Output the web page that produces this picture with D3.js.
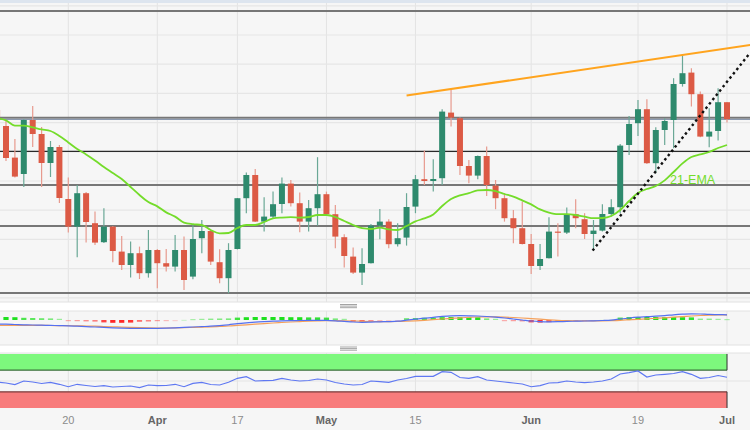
<!DOCTYPE html>
<html><head><meta charset="utf-8">
<script src="https://cdn.jsdelivr.net/npm/d3@7"></script>
<style>
body{margin:0;background:#fff;}
svg{display:block;font-family:"Liberation Sans",Arial,sans-serif;}
</style></head>
<body><svg id="chart" width="750" height="430"></svg>
<script>
// ---------- DATA ----------
const firstIndex = -8; // trading-day index of first candle (0 = 20 Mar)
const opens = [144.50,143.70,142.12,141.30,144.00,143.30,141.85,142.65,
 140.05,138.67,140.34,138.84,137.89,138.67,137.42,136.75,137.34,136.34,
 137.50,136.84,136.67,137.50,136.17,138.09,138.45,136.89,136.09,137.55,
 140.09,141.25,138.92,139.17,139.80,140.82,139.84,138.92,139.59,140.29,
 139.29,138.14,137.17,136.37,136.84,138.72,138.92,137.79,138.12,139.67,
 141.04,140.95,141.09,144.37,144.09,141.70,141.22,142.20,140.72,140.09,
 139.09,138.59,137.80,136.70,137.09,138.42,138.37,139.29,139.04,138.30,
 138.47,139.30,139.64,142.75,143.84,144.54,141.84,143.50,144.00,145.80,
 146.37,145.29,143.17,143.45,144.89];
const highs = [144.75,144.00,143.05,144.05,144.70,143.65,142.95,142.75,
 141.12,140.75,140.40,139.42,139.59,138.70,138.20,137.92,137.67,138.50,
 137.55,137.55,138.25,138.17,138.75,139.00,138.50,137.54,137.84,140.10,
 141.37,141.55,140.14,140.42,141.12,141.00,140.37,140.00,142.14,140.42,
 139.75,138.29,137.62,137.59,138.80,139.55,139.04,138.84,140.34,141.25,
 142.47,142.04,144.54,145.50,144.12,142.00,142.23,142.67,141.00,140.34,
 139.50,139.92,138.30,137.80,139.14,138.84,139.62,140.04,139.34,139.00,
 139.79,140.04,142.80,144.20,145.00,145.04,143.64,144.09,146.09,147.25,
 146.59,145.42,144.59,145.59,144.90];
const lows = [143.80,141.95,141.13,140.65,142.65,140.65,141.15,139.85,
 138.37,137.14,137.87,137.75,137.85,136.89,136.50,136.12,136.05,136.12,
 135.59,136.42,136.42,135.50,136.04,137.34,136.75,135.84,135.34,137.53,
 139.34,138.90,138.42,139.09,139.34,139.67,138.39,138.42,138.72,139.25,
 137.59,136.62,136.30,135.75,136.83,138.04,137.59,137.67,137.72,139.34,
 140.75,140.42,140.75,143.67,141.25,140.84,141.04,140.20,139.54,138.92,
 137.84,137.78,136.30,136.50,137.08,137.17,138.30,138.59,138.05,137.47,
 138.42,139.17,139.34,142.25,143.20,141.80,141.34,142.75,142.59,145.67,
 144.67,143.14,142.64,142.97,143.87];
const closes = [144.00,142.10,141.17,144.00,143.30,141.85,142.65,140.10,
 138.67,140.34,138.90,137.87,138.67,137.45,136.75,137.34,136.34,137.50,
 136.84,136.67,137.50,136.00,138.05,138.45,136.92,136.09,137.50,140.09,
 141.25,138.92,139.17,139.79,140.82,139.84,138.92,139.59,140.29,139.29,
 138.17,137.20,136.37,136.80,138.72,138.92,137.79,138.09,139.65,141.04,
 140.95,141.05,144.42,144.12,141.70,141.22,142.20,140.75,140.09,139.09,
 138.59,137.80,136.70,137.05,138.42,138.37,139.29,139.09,138.30,138.47,
 139.30,139.64,142.72,143.80,144.54,141.84,143.50,143.95,145.80,146.34,
 145.29,143.17,143.42,144.89,144.04];
const ema21 = [144.10,143.98,143.72,143.72,143.63,143.53,143.45,143.20,
 142.88,142.55,142.28,141.98,141.65,141.35,141.05,140.65,140.25,139.90,
 139.68,139.38,139.17,138.87,138.79,138.75,138.50,138.33,138.35,138.60,
 138.75,138.75,138.90,139.08,139.12,139.14,139.12,139.15,139.25,139.25,
 139.15,138.95,138.75,138.59,138.55,138.62,138.53,138.50,138.70,138.93,
 139.08,139.28,139.70,140.05,140.23,140.34,140.48,140.50,140.44,140.30,
 140.17,139.98,139.78,139.53,139.37,139.29,139.29,139.25,139.17,139.09,
 139.10,139.20,139.50,139.95,140.35,140.55,140.70,140.98,141.40,141.83,
 142.15,142.28,142.40,142.60,142.75];
const macdLine = [-0.20,-0.21,-0.225,-0.24,-0.25,-0.26,-0.27,-0.28,
 -0.29,-0.31,-0.33,-0.35,-0.37,-0.39,-0.405,-0.415,-0.42,-0.42,
 -0.415,-0.405,-0.39,-0.37,-0.35,-0.33,-0.31,-0.28,-0.24,-0.18,
 -0.14,-0.11,-0.08,-0.055,-0.04,-0.03,-0.025,-0.02,-0.015,-0.02,
 -0.04,-0.07,-0.10,-0.115,-0.105,-0.09,-0.08,-0.06,-0.01,0.04,
 0.09,0.13,0.18,0.21,0.215,0.21,0.20,0.175,0.14,0.10,
 0.05,0.00,-0.05,-0.08,-0.09,-0.085,-0.07,-0.06,-0.05,-0.04,
 -0.025,-0.005,0.05,0.10,0.14,0.165,0.19,0.22,0.26,0.29,
 0.31,0.30,0.28,0.27,0.26];
const signalLine = [-0.275,-0.27,-0.27,-0.27,-0.27,-0.27,-0.275,-0.28,
 -0.285,-0.29,-0.30,-0.31,-0.325,-0.34,-0.355,-0.37,-0.385,-0.395,
 -0.40,-0.40,-0.395,-0.385,-0.37,-0.355,-0.34,-0.32,-0.30,-0.27,
 -0.24,-0.21,-0.18,-0.15,-0.125,-0.10,-0.08,-0.06,-0.045,-0.035,
 -0.035,-0.04,-0.05,-0.065,-0.075,-0.08,-0.08,-0.075,-0.06,-0.04,
 -0.015,0.015,0.05,0.08,0.11,0.13,0.15,0.16,0.155,0.145,
 0.125,0.10,0.07,0.04,0.01,-0.015,-0.03,-0.04,-0.045,-0.045,
 -0.04,-0.03,-0.015,0.01,0.035,0.06,0.085,0.11,0.14,0.17,
 0.20,0.225,0.24,0.25,0.255];
const macdHist = [0.15,0.15,0.14,0.11,0.10,0.09,0.08,0.06,
 -0.05,-0.06,-0.07,-0.08,-0.12,-0.14,-0.14,-0.13,-0.09,-0.075,
 -0.06,-0.04,-0.015,0.01,0.05,0.06,0.07,0.075,0.08,0.12,
 0.14,0.15,0.15,0.15,0.15,0.14,0.14,0.13,0.13,0.12,
 0.08,0.06,-0.09,-0.10,-0.07,-0.04,-0.03,-0.02,0.09,0.10,
 0.11,0.12,0.14,0.15,0.15,0.15,0.14,0.08,0.06,-0.05,
 -0.06,-0.07,-0.12,-0.13,-0.11,-0.07,-0.06,-0.05,-0.04,-0.015,
 0.01,0.015,0.12,0.14,0.15,0.15,0.15,0.15,0.15,0.14,
 0.13,0.07,0.07,0.06,0.05];
const rsi = [48.1,46.3,43.5,50,48.1,45.4,47.6,43.9,
 39.4,43.9,41.7,39.8,41.3,38.9,39.8,40.7,37.6,42.6,
 41.3,41.7,43.9,39.4,45.7,47.6,43.5,42.6,47.6,55.0,
 58.0,50,50.6,51.3,55.0,51.9,50,50.9,53.7,51.9,
 47.2,44.4,42.6,43.5,50,48.7,47.6,51.9,54.6,58.7,
 58.7,58.7,67.2,66.1,56.5,55.0,58.0,51.9,50,48.1,
 46.3,44.4,39.4,41.3,46.3,46.9,50,48.1,46.9,48.1,
 50,53.7,63.0,65.4,68.5,57.4,61.1,62.4,63.9,67.2,
 62.4,55.0,56.5,60.2,56.9];
const tickIndex = [0,10,19,29,39,52,64,74];
const tickLabels = ["20","Apr","17","May","15","Jun","19","Jul"];
const gridPrices = [149.71,148.25,146.79,145.33,143.87,142.41,140.95,139.49,138.03,136.57,135.11];
const levelPrices = [149.45,144.11,140.75,138.70,135.35];
const levelPricesBlue = [144.03];
const levelPricesThin = [142.43];
const resistanceLine = [{i:38.0,p:145.22},{i:76.6,p:147.75}];
const supportLine = [{i:58.9,p:137.47},{i:76.6,p:147.36}];
const emaLabel = {i:67.6, p:140.8, text:"21-EMA"};
const rsiBands = {upper:70, lower:30};

// ---------- BUILD ----------
const W = 750;
const svg = d3.select("#chart");
const n = opens.length;
const idx = d3.range(n).map(k => k + firstIndex);
const x = d3.scaleLinear().domain([0, 74]).range([68.3, 727]);
const yP = d3.scaleLinear().domain([135, 150]).range([300, 0]);
const yM = d3.scaleLinear().domain([-1.25, 0.45]).range([345, 311]);
const yR = d3.scaleLinear().domain([0, 100]).range([408, 354]);

svg.append("rect").attr("width",W).attr("height",430).attr("fill","#f6f6f6");
svg.append("rect").attr("width",W).attr("height",3).attr("fill","#dde5ef");
// white separators
[[302,9],[345,8]].forEach(([y,h])=>{
  svg.append("rect").attr("x",0).attr("y",y).attr("width",W).attr("height",h).attr("fill","#fff");
  svg.append("line").attr("x1",0).attr("x2",W).attr("y1",y).attr("y2",y).attr("stroke","#e2e2e2");
  svg.append("line").attr("x1",0).attr("x2",W).attr("y1",y+h).attr("y2",y+h).attr("stroke","#e2e2e2");
  const g = svg.append("g").attr("transform",`translate(340,${y+h/2-2})`);
  [0,1.6,3.2].forEach(d=>g.append("line").attr("x1",0).attr("x2",17).attr("y1",d).attr("y2",d).attr("stroke","#9a9a9a").attr("stroke-width",0.9));
});

// vertical grid
const panels = [[3,302],[311,345],[353,408]];
panels.forEach(([a,b])=>{
  svg.append("g").selectAll("line").data(tickIndex).join("line")
    .attr("x1",d=>x(d)).attr("x2",d=>x(d)).attr("y1",a).attr("y2",b)
    .attr("stroke","#e3e3e3").attr("stroke-width",1);
});

// main panel
const main = svg.append("g");
main.append("clipPath").attr("id","clipMain").append("rect").attr("x",0).attr("y",3).attr("width",W).attr("height",299);
const mg = main.append("g").attr("clip-path","url(#clipMain)");
mg.selectAll("line.grid").data(gridPrices).join("line").attr("class","grid")
  .attr("x1",0).attr("x2",W).attr("y1",d=>yP(d)).attr("y2",d=>yP(d))
  .attr("stroke","#e6e6e6").attr("stroke-width",1.2);
mg.selectAll("line.lvl").data(levelPrices).join("line").attr("class","lvl")
  .attr("x1",0).attr("x2",W).attr("y1",d=>yP(d)).attr("y2",d=>yP(d))
  .attr("stroke","#777").attr("stroke-width",2);
mg.selectAll("line.lvlb").data(levelPricesBlue).join("line").attr("class","lvlb")
  .attr("x1",0).attr("x2",W).attr("y1",d=>yP(d)).attr("y2",d=>yP(d))
  .attr("stroke","#8c9ab0").attr("stroke-width",1.3);
mg.selectAll("line.lvlt").data(levelPricesThin).join("line").attr("class","lvlt")
  .attr("x1",0).attr("x2",W).attr("y1",d=>yP(d)).attr("y2",d=>yP(d))
  .attr("stroke","#2a2a2a").attr("stroke-width",1.2);

// candles
const up = "#2e8a6d", dn = "#dc5a45", upW = "#6aa896", dnW = "#e79a8e";
const cg = mg.append("g");
d3.range(n).forEach(k=>{
  const o=opens[k], h=highs[k], l=lows[k], c=closes[k], i=idx[k];
  const isUp = c >= o;
  cg.append("line").attr("x1",x(i)).attr("x2",x(i)).attr("y1",yP(h)).attr("y2",yP(l))
    .attr("stroke",isUp?upW:dnW).attr("stroke-width",1.2);
  const top = yP(Math.max(o,c)), bot = yP(Math.min(o,c));
  cg.append("rect").attr("x",x(i)-3).attr("width",6).attr("y",top).attr("height",Math.max(1.2,bot-top))
    .attr("fill",isUp?up:dn);
});

// EMA
const emaPts = d3.range(n).map(k=>[x(idx[k]), yP(ema21[k])]);
mg.append("path").attr("d",d3.line().curve(d3.curveMonotoneX)(emaPts))
  .attr("fill","none").attr("stroke","#74dc2a").attr("stroke-width",1.8);
mg.append("text").attr("x",x(emaLabel.i)).attr("y",yP(emaLabel.p)).text(emaLabel.text)
  .attr("fill","#74dc2a").attr("font-size",12.5);

// trend lines
const tl = d3.line().x(d=>x(d.i)).y(d=>yP(d.p));
mg.append("path").attr("d",tl(resistanceLine)).attr("stroke","#ffa41e").attr("stroke-width",2).attr("fill","none");
mg.append("path").attr("d",tl(supportLine)).attr("stroke","#111").attr("stroke-width",2.4)
  .attr("stroke-dasharray","2.5,3").attr("fill","none");

// MACD panel
const mp = svg.append("g");
mp.append("clipPath").attr("id","clipM").append("rect").attr("x",0).attr("y",311).attr("width",W).attr("height",34);
const mpg = mp.append("g").attr("clip-path","url(#clipM)");
mpg.selectAll("rect").data(d3.range(n)).join("rect")
  .attr("x",k=>x(idx[k])-2.6).attr("width",5.2)
  .attr("y",k=>macdHist[k]>=0? yM(macdHist[k]) : yM(0))
  .attr("height",k=>Math.max(1.2, Math.abs(yM(macdHist[k])-yM(0))))
  .attr("fill",k=>macdHist[k]>=0?"#1fe01f":"#ff2626")
  .attr("fill-opacity",k=>Math.max(0.18, Math.min(1, Math.abs(macdHist[k])/0.14)));
const ml = d3.line().curve(d3.curveMonotoneX);
mpg.append("path").attr("d",ml(d3.range(n).map(k=>[x(idx[k]),yM(signalLine[k])])))
  .attr("fill","none").attr("stroke","#f5a05a").attr("stroke-width",1.2);
mpg.append("path").attr("d",ml(d3.range(n).map(k=>[x(idx[k]),yM(macdLine[k])])))
  .attr("fill","none").attr("stroke","#5570f0").attr("stroke-width",1.2);

// RSI panel
const rp = svg.append("g");
const bandX1 = x(idx[n-1]);
rp.append("line").attr("x1",0).attr("x2",W).attr("y1",yR(50)).attr("y2",yR(50)).attr("stroke","#e4e4e4");
rp.append("rect").attr("x",0).attr("y",yR(100)).attr("width",bandX1).attr("height",yR(rsiBands.upper)-yR(100)).attr("fill","#7df87d");
rp.append("rect").attr("x",0).attr("y",yR(rsiBands.lower)).attr("width",bandX1).attr("height",yR(0)-yR(rsiBands.lower)).attr("fill","#f87c7c");
rp.append("line").attr("x1",0).attr("x2",bandX1).attr("y1",yR(rsiBands.upper)).attr("y2",yR(rsiBands.upper)).attr("stroke","#3d6e3d").attr("stroke-width",1.2);
rp.append("line").attr("x1",0).attr("x2",bandX1).attr("y1",yR(rsiBands.lower)).attr("y2",yR(rsiBands.lower)).attr("stroke","#7a3b3b").attr("stroke-width",1.2);
[[100,rsiBands.upper],[rsiBands.lower,0]].forEach(([a,b])=>
  rp.append("line").attr("x1",bandX1).attr("x2",bandX1).attr("y1",yR(a)).attr("y2",yR(b)).attr("stroke","#333").attr("stroke-width",1));
rp.append("path").attr("d",d3.line()(d3.range(n).map(k=>[x(idx[k]),yR(rsi[k])])))
  .attr("fill","none").attr("stroke","#5f78f2").attr("stroke-width",1.2);

// x axis labels
svg.append("g").selectAll("text").data(tickIndex).join("text")
  .attr("x",d=>x(d)).attr("y",424).attr("text-anchor","middle")
  .attr("font-size",11)
  .attr("font-weight",(d,j)=>/[A-Za-z]/.test(tickLabels[j])?"bold":"normal")
  .attr("fill",(d,j)=>/[A-Za-z]/.test(tickLabels[j])?"#666":"#8c8c8c")
  .text((d,j)=>tickLabels[j]);
</script>
</body></html>
